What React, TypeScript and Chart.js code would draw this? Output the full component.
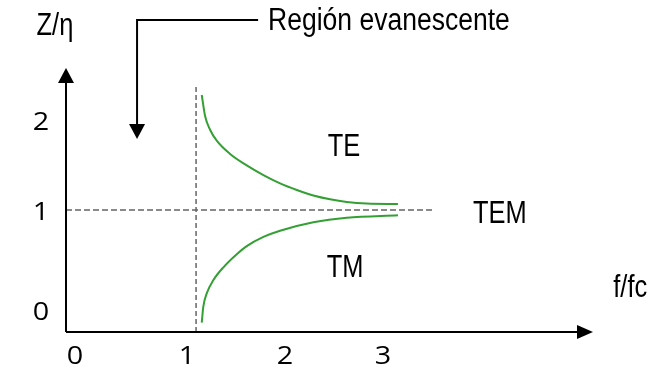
import React, { useEffect, useRef } from "react";
import { Chart, registerables } from "chart.js";

Chart.register(...registerables);

// Curves (x = f/fc, y = Z/η)
const teX = [1.058, 1.092, 1.143, 1.211, 1.347, 1.517, 1.687, 1.857, 2.028, 2.197, 2.367, 2.538, 2.742, 3.06];
const teY = [2.211, 1.99, 1.845, 1.73, 1.59, 1.47, 1.368, 1.281, 1.211, 1.153, 1.113, 1.085, 1.068, 1.063];
const tmX = [1.058, 1.074, 1.109, 1.177, 1.279, 1.415, 1.517, 1.687, 1.857, 2.197, 2.538, 3.06];
const tmY = [-0.186, -0.018, 0.123, 0.263, 0.397, 0.535, 0.62, 0.717, 0.782, 0.871, 0.919, 0.944];

// Reference lines
const cutoffX = [1, 1];
const cutoffY = [-0.284, 2.305];
const temX = [-0.327, 3.42];
const temY = [1, 1];

// Tick labels and where they sit
const xTickLabels = ["0", "1", "2", "3"];
const xTickPos = [-0.235, 0.908, 1.908, 2.908];
const yTickLabels = ["0", "1", "2"];
const yTickPos = [-0.08, 0.97, 1.92];

// Text annotations
const noteTexts = ["TE", "TM", "TEM", "f/fc", "Z/η"];
const noteX = [2.51, 2.52, 4.1, 5.43, -0.44];
const noteY = [1.66, 0.39, 0.95, 0.17, 2.93];

const calloutText = "Región evanescente";
const calloutPathX = [1.633, 0.398, 0.398];
const calloutPathY = [3.0, 3.0, 1.747];
const calloutTextPos = [1.735, 2.98];

const X_MIN = -0.327;
const X_MAX = 5.05;
const Y_MIN = -0.284;
const Y_MAX = 2.495;

const toPts = (xs: number[], ys: number[]) => xs.map((x, i) => ({ x, y: ys[i] }));

const decorPlugin = {
  id: "decor",
  afterDraw(chart: any) {
    const ctx = chart.ctx as CanvasRenderingContext2D;
    const xs = chart.scales.x;
    const ys = chart.scales.y;
    const px = (v: number) => xs.getPixelForValue(v);
    const py = (v: number) => ys.getPixelForValue(v);
    const { left, right, top, bottom } = chart.chartArea;

    ctx.save();
    ctx.strokeStyle = "#000";
    ctx.fillStyle = "#000";
    ctx.lineWidth = 2;
    ctx.beginPath();
    ctx.moveTo(left, bottom);
    ctx.lineTo(right - 14, bottom);
    ctx.moveTo(left, bottom);
    ctx.lineTo(left, top + 14);
    ctx.stroke();
    ctx.beginPath();
    ctx.moveTo(right, bottom);
    ctx.lineTo(right - 16, bottom - 7);
    ctx.lineTo(right - 16, bottom + 7);
    ctx.closePath();
    ctx.fill();
    ctx.beginPath();
    ctx.moveTo(left, top);
    ctx.lineTo(left - 8, top + 15);
    ctx.lineTo(left + 8, top + 15);
    ctx.closePath();
    ctx.fill();

    const cx = calloutPathX.map(px);
    const cy = calloutPathY.map(py);
    ctx.beginPath();
    ctx.moveTo(cx[0], cy[0]);
    ctx.lineTo(cx[1], cy[1]);
    ctx.lineTo(cx[2], cy[2] - 14);
    ctx.stroke();
    ctx.beginPath();
    ctx.moveTo(cx[2], cy[2]);
    ctx.lineTo(cx[2] - 8, cy[2] - 15);
    ctx.lineTo(cx[2] + 8, cy[2] - 15);
    ctx.closePath();
    ctx.fill();

    const drawText = (t: string, x: number, y: number, align: CanvasTextAlign, font: string, sx: number) => {
      ctx.save();
      ctx.translate(x, y);
      ctx.scale(sx, 1);
      ctx.font = font;
      ctx.textAlign = align;
      ctx.textBaseline = "middle";
      ctx.fillText(t, 0, 0);
      ctx.restore();
    };

    const textFont = "31px 'Liberation Sans', Arial, sans-serif";
    drawText(calloutText, px(calloutTextPos[0]), py(calloutTextPos[1]), "left", textFont, 0.855);
    noteTexts.forEach((t, i) => {
      drawText(t, px(noteX[i]), py(noteY[i]), "center", textFont, 0.82);
    });

    const tickFont = "25px 'Open Sans', 'DejaVu Sans', sans-serif";
    xTickLabels.forEach((t, i) => {
      drawText(t, px(xTickPos[i]), bottom + 25, "center", tickFont, 1.15);
    });
    yTickLabels.forEach((t, i) => {
      drawText(t, left - 25, py(yTickPos[i]), "center", tickFont, 1.15);
    });
    ctx.restore();
  },
};

export default function App() {
  const ref = useRef<HTMLCanvasElement | null>(null);
  useEffect(() => {
    if (!ref.current) return;
    const green = "rgb(52,160,52)";
    const dash = "rgb(100,100,100)";
    const chart = new Chart(ref.current, {
      type: "scatter",
      data: {
        datasets: [
          { data: toPts(cutoffX, cutoffY), showLine: true, borderColor: dash, borderWidth: 1.5, borderDash: [5, 3], pointRadius: 0 },
          { data: toPts(temX, temY), showLine: true, borderColor: dash, borderWidth: 1.5, borderDash: [6, 3], pointRadius: 0 },
          { data: toPts(teX, teY), showLine: true, borderColor: green, borderWidth: 2, pointRadius: 0, cubicInterpolationMode: "monotone" },
          { data: toPts(tmX, tmY), showLine: true, borderColor: green, borderWidth: 2, pointRadius: 0, cubicInterpolationMode: "monotone" },
        ],
      },
      options: {
        animation: false,
        responsive: false,
        maintainAspectRatio: false,
        layout: { padding: { left: 66, right: 56, top: 68, bottom: 42 } },
        plugins: { legend: { display: false }, tooltip: { enabled: false } },
        scales: {
          x: { type: "linear", min: X_MIN, max: X_MAX, display: false },
          y: { type: "linear", min: Y_MIN, max: Y_MAX, display: false },
        },
      } as any,
      plugins: [decorPlugin],
    });
    return () => chart.destroy();
  }, []);
  return (
    <div style={{ position: "fixed", left: 0, top: 0, width: 649, height: 374, background: "#fff" }}>
      <canvas ref={ref} width={649} height={374} style={{ display: "block", width: 649, height: 374 }} />
    </div>
  );
}
